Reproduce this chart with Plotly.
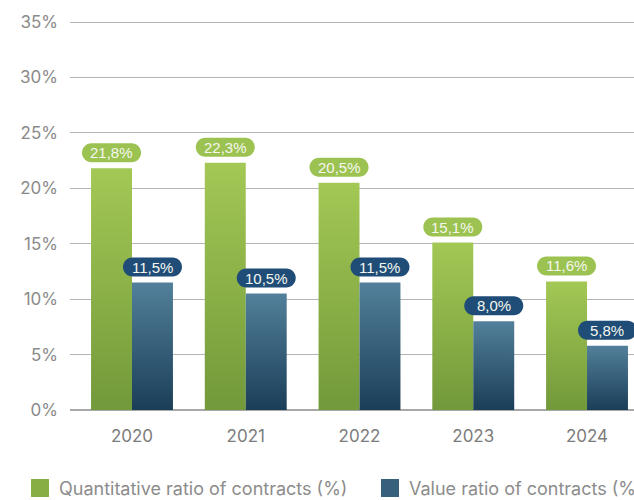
import plotly.graph_objects as go

years = ['2020', '2021', '2022', '2023', '2024']
quantitative = [21.8, 22.3, 20.5, 15.1, 11.6]
value_ratio = [11.5, 10.5, 11.5, 8.0, 5.8]
series_names = ['Quantitative ratio of contracts (%)', 'Value ratio of contracts (%)']
y_ticks = [0, 5, 10, 15, 20, 25, 30, 35]

green = dict(top='#a3c855', bottom='#72993a', pill='#9cc352', key='#86ae44')
blue = dict(top='#52809a', bottom='#1b3e58', pill='#1f4d78', key='#36607c')

FONT = 'Inter, Liberation Sans, sans-serif'
W = 0.36  # bar width in category units


def fmt(v):
    return f"{v:.1f}".replace('.', ',') + '%'


def pill_path(w=59, h=19, gap=6):
    # rounded label box, pixel offsets from the bar top
    r = h / 2
    k = 0.5523 * r
    x0, x1 = -w / 2 + r, w / 2 - r
    b, t = gap, gap + h
    return (f"M{x0},{b} L{x1},{b} "
            f"C{x1 + k},{b} {x1 + r},{b + r - k} {x1 + r},{b + r} "
            f"C{x1 + r},{b + r + k} {x1 + k},{t} {x1},{t} "
            f"L{x0},{t} "
            f"C{x0 - k},{t} {x0 - r},{b + r + k} {x0 - r},{b + r} "
            f"C{x0 - r},{b + r - k} {x0 - k},{b} {x0},{b} Z")


fig = go.Figure()
shapes = []
annotations = []

for vals, col, offset in [(quantitative, green, -W / 2), (value_ratio, blue, W / 2)]:
    for i, v in enumerate(vals):
        cx = i + offset
        fig.add_trace(go.Scatter(
            x=[cx - W / 2, cx - W / 2, cx + W / 2, cx + W / 2, cx - W / 2],
            y=[0, v, v, 0, 0],
            mode='lines', line=dict(width=0), fill='toself',
            fillgradient=dict(type='vertical', colorscale=[[0, col['bottom']], [1, col['top']]]),
            hoverinfo='skip', showlegend=False))
        shapes.append(dict(type='path', xref='x', yref='y', xsizemode='pixel', ysizemode='pixel',
                           xanchor=cx, yanchor=v, path=pill_path(),
                           fillcolor=col['pill'], line=dict(width=0)))
        annotations.append(dict(x=cx, y=v, xref='x', yref='y', text=fmt(v), showarrow=False,
                                yshift=15.5, yanchor='middle',
                                font=dict(family='Liberation Sans, Arial', size=15, color='#f4f7ee')))

# legend drawn by hand so the right side runs off the canvas like the original
plot_l, plot_w, plot_b, plot_h = 70, 564, 410, 390
def px_x(p):
    return (p - plot_l) / plot_w
def px_y(p):
    return (plot_b - p) / plot_h

for name, col, sq_x, txt_x in [(series_names[0], green, 31, 57), (series_names[1], blue, 381, 407)]:
    shapes.append(dict(type='rect', xref='paper', yref='paper',
                       x0=px_x(sq_x), x1=px_x(sq_x + 18), y0=px_y(479), y1=px_y(497),
                       fillcolor=col['key'], line=dict(width=0)))
    annotations.append(dict(x=px_x(txt_x), y=px_y(488), xref='paper', yref='paper', text=name,
                            showarrow=False, xanchor='left', yanchor='middle',
                            font=dict(family=FONT, size=18, color='#8c8c8c')))

fig.update_layout(
    width=634, height=500,
    margin=dict(l=70, r=0, t=20, b=90),
    plot_bgcolor='white', paper_bgcolor='white',
    showlegend=False,
    shapes=shapes, annotations=annotations,
    xaxis=dict(range=[-0.545, 4.413], tickvals=list(range(len(years))), ticktext=years,
               showgrid=False, zeroline=False, ticks='', ticklabelstandoff=14,
               tickfont=dict(family=FONT, size=17, color='#7c7c7c')),
    yaxis=dict(range=[0, 390 * 35 / 388], tickvals=y_ticks, ticktext=[f"{t}%" for t in y_ticks],
               showgrid=True, gridcolor='#b4b4b4',
               gridwidth=1, zeroline=True, zerolinecolor='#a8a8a8', zerolinewidth=1.5,
               ticks='', ticklabelstandoff=11,
               tickfont=dict(family=FONT, size=17, color='#8a8a8a')),
)

# drop the default page margin so the figure sits flush in the window
fig.write_html("out.html", config={'displayModeBar': False},
               post_script="document.body.style.margin='0';document.body.style.overflow='hidden';")
